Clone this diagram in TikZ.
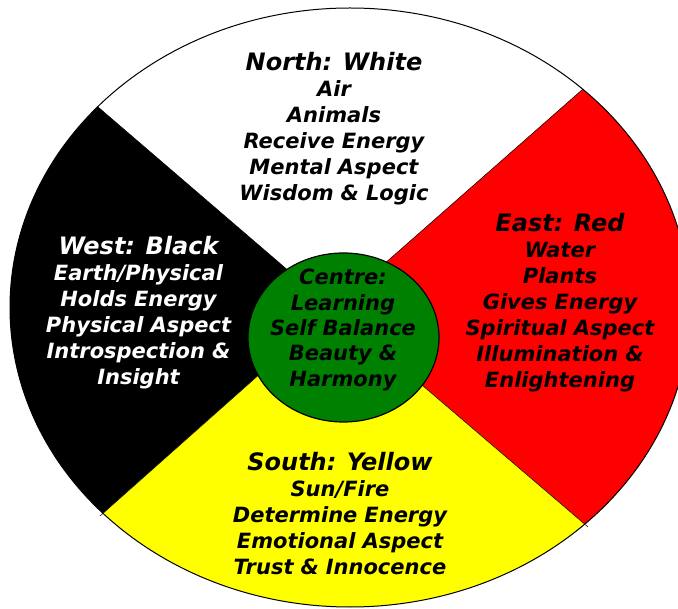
\documentclass[tikz,border=0pt]{standalone}
\usepackage{fontspec}
\setmainfont{DejaVu Sans}
\usetikzlibrary{calc}
\definecolor{wred}{RGB}{255,0,0}
\definecolor{wyellow}{RGB}{255,255,0}
\definecolor{wgreen}{RGB}{0,128,0}
\begin{document}
\begin{tikzpicture}[x=1pt,y=-1pt,
  block/.style={text width=260pt, align=center, anchor=base, inner sep=0pt,
    font=\fontsize{21}{26}\selectfont\bfseries\itshape},
  divider/.style={line width=0.5pt, draw=black}]
\useasboundingbox (0,0) rectangle (678,609);
\clip (0,0) rectangle (678,609);
\coordinate (C) at (333,309);
\coordinate (nw) at (98,107);
\coordinate (ne) at (583,89);
\coordinate (sw) at (100,516);
\coordinate (se) at (588,527);
\coordinate (O) at (350,307.5);
\begin{scope}
  \clip (O) ellipse [x radius=340pt, y radius=299.5pt];
  \fill[white] (-60,-60) rectangle (760,680);
  \fill[black] (C) -- ($(C)!1.6!(nw)$) -- (-80,309) -- ($(C)!1.6!(sw)$) -- cycle;
  \fill[wred] (C) -- ($(C)!1.6!(ne)$) -- (780,309) -- ($(C)!1.6!(se)$) -- cycle;
  \fill[wyellow] (C) -- ($(C)!1.6!(sw)$) -- (340,700) -- ($(C)!1.6!(se)$) -- cycle;
\end{scope}
\draw[divider] (C) -- (nw);
\draw[divider] (C) -- (ne);
\draw[divider] (C) -- (sw);
\draw[divider] (C) -- (se);
\draw[line width=1pt] (O) ellipse [x radius=340pt, y radius=299.5pt];
\draw[fill=wgreen, line width=1.2pt] (343.5,337.5) ellipse [x radius=95.5pt, y radius=84.5pt];
\node[block, text=black] (north) at (334,71)
  {{\fontsize{24}{26}\selectfont North: White}\\Air\\Animals\\Receive Energy\\Mental Aspect\\Wisdom \& Logic};
\node[block, text=white] (west) at (138.5,255)
  {{\fontsize{24}{26}\selectfont West: Black}\\Earth/Physical\\Holds Energy\\Physical Aspect\\Introspection \&\\Insight};
\node[block, text=black] (east) at (560,232)
  {{\fontsize{24}{26}\selectfont East: Red}\\Water\\Plants\\Gives Energy\\Spiritual Aspect\\Illumination \&\\Enlightening};
\node[block, text=black] (south) at (340,471)
  {{\fontsize{24}{26}\selectfont South: Yellow}\\Sun/Fire\\Determine Energy\\Emotional Aspect\\Trust \& Innocence};
\node[block, text=black, font=\fontsize{21}{25.3}\selectfont\bfseries\itshape] (centre) at (343,285)
  {Centre:\\Learning\\Self Balance\\Beauty \&\\Harmony};
\end{tikzpicture}
\end{document}
